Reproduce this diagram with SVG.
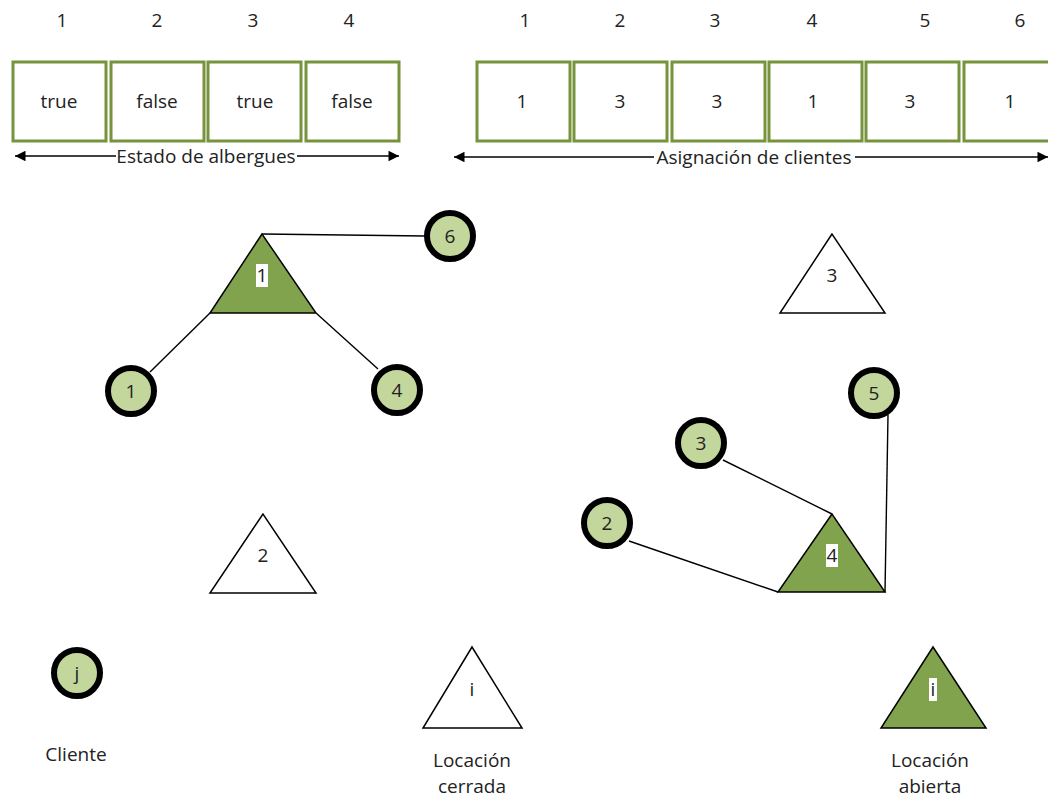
<svg xmlns="http://www.w3.org/2000/svg" width="1048" height="800" viewBox="0 0 1048 800">
  <defs>
    <style>
      text { font-family: "Open Sans", "Liberation Sans", sans-serif; font-size: 19px; fill: #222; text-anchor: middle; }
      .cell { fill: #fff; stroke: #77933C; stroke-width: 3; }
      .cli { fill: #C3D69B; stroke: #000; stroke-width: 6; }
      .open { fill: #82A34D; stroke: #000; stroke-width: 1.5; stroke-linejoin: miter; }
      .closed { fill: #fff; stroke: #000; stroke-width: 1.5; stroke-linejoin: miter; }
      .link { stroke: #000; stroke-width: 1.4; fill: none; }
      .dim { stroke: #000; stroke-width: 1.5; fill: none; }
      .tag { fill: #fff; }
    </style>
    <marker id="ah" viewBox="0 0 10 10" refX="10" refY="5" markerWidth="9" markerHeight="7" markerUnits="strokeWidth" orient="auto-start-reverse">
      <path d="M0,0 L10,5 L0,10 Z" fill="#000"/>
    </marker>
  </defs>

  <rect width="1048" height="800" fill="#fff"/>

  <!-- shelter state array -->
  <g id="estado">
    <text x="62" y="27">1</text>
    <text x="157" y="27">2</text>
    <text x="253" y="27">3</text>
    <text x="349" y="27">4</text>
    <rect class="cell" x="13" y="62" width="93" height="79"/>
    <rect class="cell" x="111" y="62" width="93" height="79"/>
    <rect class="cell" x="208" y="62" width="93" height="79"/>
    <rect class="cell" x="306" y="62" width="93" height="79"/>
    <text x="59" y="108">true</text>
    <text x="157" y="108">false</text>
    <text x="255" y="108">true</text>
    <text x="352" y="108">false</text>
    <line class="dim" x1="116" y1="156" x2="15" y2="156" marker-end="url(#ah)"/>
    <line class="dim" x1="297" y1="156" x2="399" y2="156" marker-end="url(#ah)"/>
    <text x="206" y="163">Estado de albergues</text>
  </g>

  <!-- client assignment array -->
  <g id="asignacion">
    <text x="525" y="27">1</text>
    <text x="620" y="27">2</text>
    <text x="715" y="27">3</text>
    <text x="812" y="27">4</text>
    <text x="925" y="27">5</text>
    <text x="1020" y="27">6</text>
    <rect class="cell" x="477" y="62" width="93" height="79"/>
    <rect class="cell" x="574" y="62" width="93" height="79"/>
    <rect class="cell" x="672" y="62" width="93" height="79"/>
    <rect class="cell" x="769" y="62" width="93" height="79"/>
    <rect class="cell" x="866" y="62" width="93" height="79"/>
    <rect class="cell" x="964" y="62" width="93" height="79"/>
    <text x="522" y="108">1</text>
    <text x="620" y="108">3</text>
    <text x="717" y="108">3</text>
    <text x="813" y="108">1</text>
    <text x="910" y="108">3</text>
    <text x="1010" y="108">1</text>
    <line class="dim" x1="654" y1="157" x2="454" y2="157" marker-end="url(#ah)"/>
    <line class="dim" x1="855" y1="157" x2="1048" y2="157" marker-end="url(#ah)"/>
    <text x="754" y="164">Asignación de clientes</text>
  </g>

  <!-- assignment links -->
  <g id="connectors">
    <line class="link" x1="262" y1="234" x2="425" y2="236"/>
    <line class="link" x1="210" y1="313" x2="150" y2="372"/>
    <line class="link" x1="316" y1="313" x2="378" y2="369"/>
    <line class="link" x1="723" y1="460" x2="832" y2="514"/>
    <line class="link" x1="629" y1="541" x2="778" y2="592"/>
    <line class="link" x1="888" y1="415" x2="885" y2="592"/>
  </g>

  <!-- facilities -->
  <g id="loc1">
    <polygon class="open" points="262,234 210,313 316,313"/>
    <rect class="tag" x="256" y="264" width="12" height="23"/>
    <text x="262" y="282">1</text>
  </g>
  <g id="loc2">
    <polygon class="closed" points="263,514 210,593 316,593"/>
    <text x="263" y="562">2</text>
  </g>
  <g id="loc3">
    <polygon class="closed" points="832,234 780,313 885,313"/>
    <text x="832" y="282">3</text>
  </g>
  <g id="loc4">
    <polygon class="open" points="832,514 778,592 885,592"/>
    <rect class="tag" x="826" y="544" width="12" height="23"/>
    <text x="832" y="562">4</text>
  </g>

  <!-- clients -->
  <g id="cli1">
    <circle class="cli" cx="131" cy="391" r="23"/>
    <text x="131" y="398">1</text>
  </g>
  <g id="cli2">
    <circle class="cli" cx="607" cy="523" r="23"/>
    <text x="607" y="530">2</text>
  </g>
  <g id="cli3">
    <circle class="cli" cx="701" cy="443" r="23"/>
    <text x="701" y="450">3</text>
  </g>
  <g id="cli4">
    <circle class="cli" cx="397" cy="390" r="23"/>
    <text x="397" y="397">4</text>
  </g>
  <g id="cli5">
    <circle class="cli" cx="874" cy="393" r="23"/>
    <text x="874" y="400">5</text>
  </g>
  <g id="cli6">
    <circle class="cli" cx="450" cy="236" r="23"/>
    <text x="450" y="243">6</text>
  </g>

  <!-- legend -->
  <g id="legend-cliente">
    <circle class="cli" cx="77" cy="673" r="23"/>
    <text x="77" y="680">j</text>
    <text x="76" y="761">Cliente</text>
  </g>
  <g id="legend-cerrada">
    <polygon class="closed" points="472,647 423,728 522,728"/>
    <text x="472" y="696">i</text>
    <text x="472" y="767">Locación</text>
    <text x="472" y="793">cerrada</text>
  </g>
  <g id="legend-abierta">
    <polygon class="open" points="933,647 881,728 986,728"/>
    <rect class="tag" x="929" y="678" width="8" height="23"/>
    <text x="933" y="696">i</text>
    <text x="930" y="767">Locación</text>
    <text x="930" y="793">abierta</text>
  </g>
</svg>
